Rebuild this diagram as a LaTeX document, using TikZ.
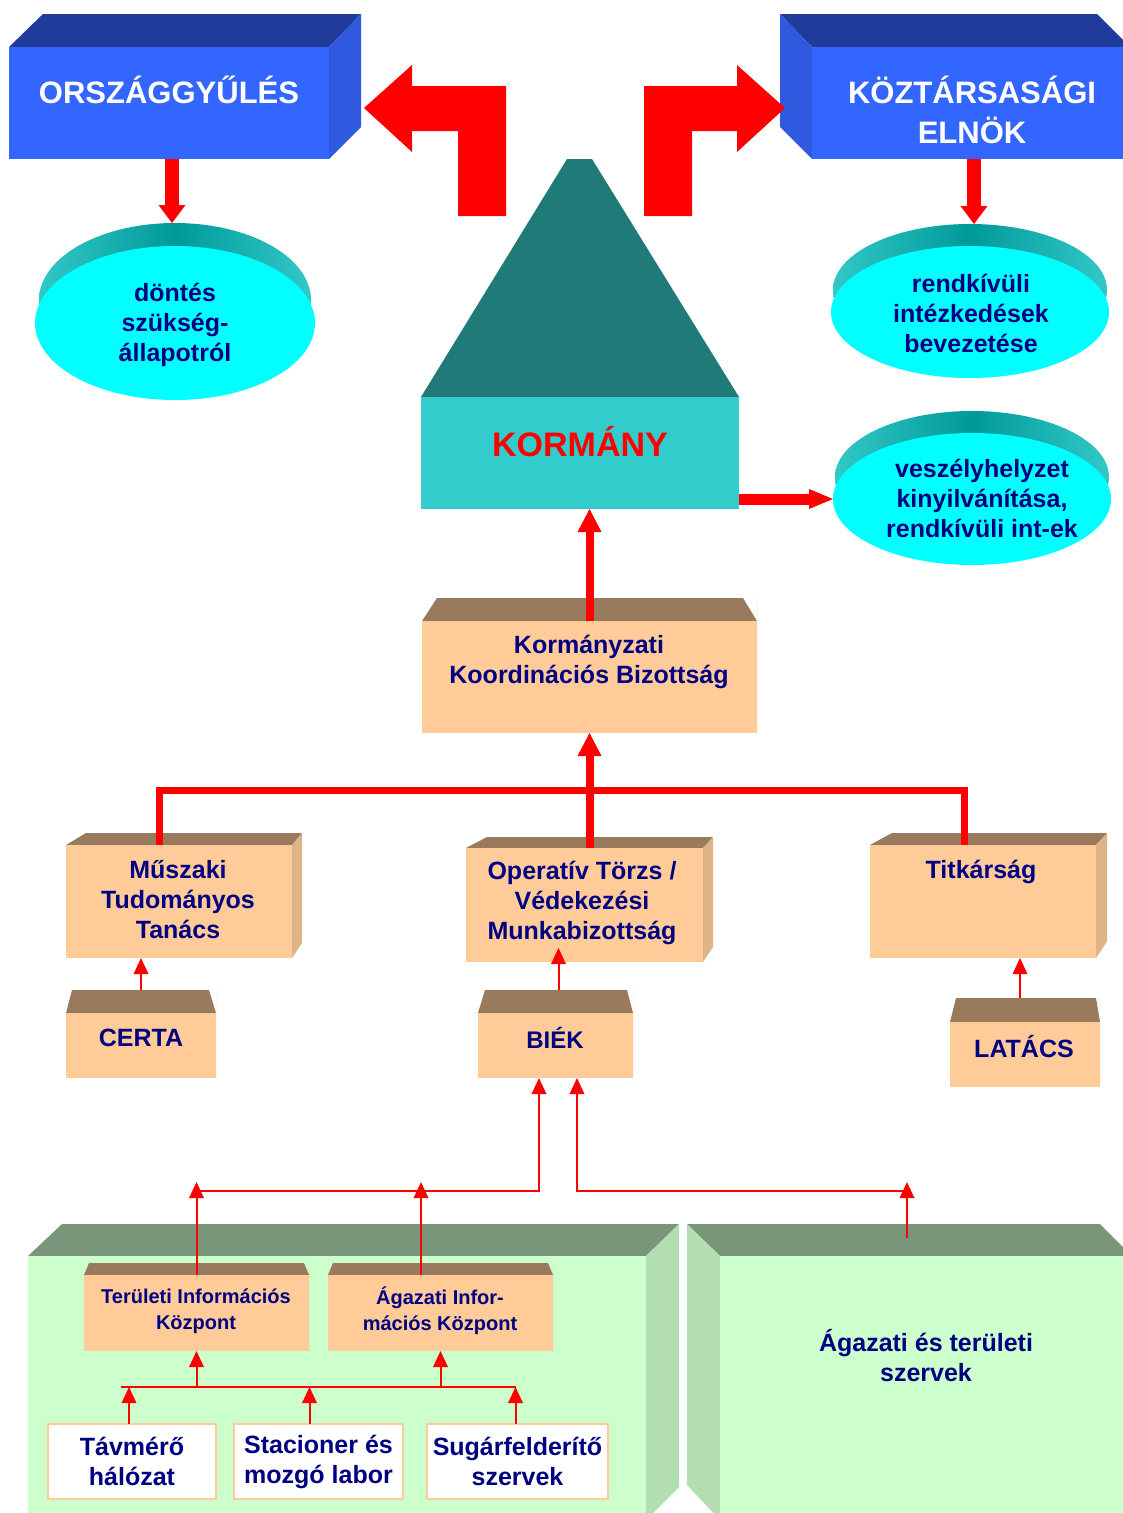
\documentclass[tikz,border=0pt]{standalone}
\usepackage{fontspec}
\setmainfont{Liberation Sans}
\usetikzlibrary{arrows.meta,shapes.geometric}

\definecolor{bluefront}{RGB}{51,102,255}
\definecolor{bluetop}{RGB}{32,60,154}
\definecolor{blueside}{RGB}{47,90,224}
\definecolor{pyramidc}{RGB}{31,122,120}
\definecolor{kormc}{RGB}{51,204,204}
\definecolor{diskc}{RGB}{0,255,255}
\definecolor{diskdark}{RGB}{0,153,153}
\definecolor{diskedge}{RGB}{51,200,200}
\definecolor{navytext}{RGB}{0,0,128}
\definecolor{orangefront}{RGB}{255,204,153}
\definecolor{orangetop}{RGB}{153,122,92}
\definecolor{orangeside}{RGB}{222,179,135}
\definecolor{greenfront}{RGB}{204,255,204}
\definecolor{greentop}{RGB}{122,150,122}
\definecolor{greenside}{RGB}{178,222,178}

\tikzset{
  bfront/.style={fill=bluefront, inner sep=0, outer sep=0},
  kfront/.style={fill=kormc, inner sep=0, outer sep=0},
  pfront/.style={fill=orangefront, inner sep=0, outer sep=0},
  gfront/.style={fill=greenfront, inner sep=0, outer sep=0},
  diskback/.style={ellipse, inner sep=0, outer sep=0, left color=diskedge, right color=diskedge, middle color=diskdark},
  diskfront/.style={ellipse, inner sep=0, outer sep=0, fill=diskc},
  wbox/.style={draw=orangefront, line width=2pt, fill=white, inner sep=0, outer sep=0,
    text=navytext, align=center, font=\bfseries\fontsize{25}{30}\selectfont},
  txt/.style={text=navytext, align=center, inner sep=0, font=\bfseries\fontsize{25}{30}\selectfont},
  smalltxt/.style={text=navytext, align=center, inner sep=0, font=\bfseries\fontsize{20}{26}\selectfont},
  headtxt/.style={text=white, align=center, inner sep=0, font=\bfseries\fontsize{31}{40}\selectfont},
  thinline/.style={red, line width=2pt},
  thinarrow/.style={red, line width=2pt, -{Triangle[length=16pt,width=15pt,line width=0pt]}},
  busline/.style={red, line width=7pt},
  bigarrow/.style={red, line width=8pt, -{Triangle[length=23pt,width=24pt,line width=0pt]}},
  blockarrow/.style={red, line width=14pt, -{Triangle[length=18pt,width=27pt,line width=0pt]}},
  sidearrow/.style={red, line width=11pt, -{Triangle[length=24pt,width=20pt,line width=0pt]}}
}

% name, x1, y1, x2, y2, top height, left inset, right inset, side width
\newcommand{\pbox}[9]{%
  \fill[orangetop] (#2,#3) -- ++(#7,-#6) -- ({#4-(#8)},{#3-(#6)}) -- (#4,#3) -- cycle;
  \fill[orangeside] (#4,#3) -- ({#4+#9},{#3-(#6)}) -- ({#4+#9},{#5-1.5*#9}) -- (#4,#5) -- cycle;
  \node[pfront, minimum width={#4-#2}, minimum height={#5-#3}] (#1) at ({(#2+#4)/2},{(#3+#5)/2}) {};
  \coordinate (#1-top) at ({(#2+#4)/2},{#3-(#6)});
}

\begin{document}
\begin{tikzpicture}[x=1pt,y=-1pt]
\useasboundingbox (0,0) rectangle (1123,1513);
\clip (0,0) rectangle (1123,1513);

\fill[bluetop] (9,47) -- (43,14) -- (361,14) -- (329,47) -- cycle;
\fill[blueside] (329,47) -- (361,14) -- (361,127) -- (329,159) -- cycle;
\node[bfront, minimum width=320, minimum height=112] (orsz) at (169,103) {};
\fill[bluetop] (780,14) -- (1097,14) -- (1130,47) -- (812,47) -- cycle;
\fill[blueside] (780,14) -- (812,47) -- (812,159) -- (780,127) -- cycle;
\node[bfront, minimum width=318, minimum height=112] (elnok) at (971,103) {};

\fill[pyramidc] (421,397) -- (567,159) -- (592,159) -- (739,397) -- cycle;
\node[kfront, minimum width=318, minimum height=112] (korm) at (580,453) {};

\fill[red] (364,108) -- (412,65) -- (412,86) -- (506,86) -- (506,216) -- (458,216)
  -- (458,131) -- (412,131) -- (412,152) -- cycle;
\fill[red] (785,108) -- (737,65) -- (737,86) -- (644,86) -- (644,216) -- (692,216)
  -- (692,131) -- (737,131) -- (737,152) -- cycle;

\node[diskback, minimum width=272, minimum height=154] (dontes-b) at (175,300) {};
\node[diskfront, minimum width=280, minimum height=154] (dontes) at (175,323) {};
\node[diskback, minimum width=274, minimum height=132] (rendk-b) at (970,290) {};
\node[diskfront, minimum width=278, minimum height=132] (rendk) at (970,312) {};
\node[diskback, minimum width=274, minimum height=132] (vesz-b) at (972,477) {};
\node[diskfront, minimum width=278, minimum height=132] (vesz) at (972,499) {};

\pbox{kkb}{422}{621}{757}{733}{23}{15}{14}{0}
\pbox{musz}{66}{845}{292}{958}{12}{20}{-10}{10}
\pbox{op}{466}{848}{703}{962}{11}{21}{-10}{10}
\pbox{titk}{870}{845}{1096}{958}{12}{22}{-11}{11}
\pbox{certa}{66}{1013}{216}{1078}{23}{6}{7}{0}
\pbox{biek}{478}{1013}{633}{1078}{23}{7}{6}{0}
\pbox{latacs}{950}{1022}{1100}{1087}{24}{6}{4}{0}

\fill[greentop] (28,1256) -- (62,1224) -- (679,1224) -- (646,1256) -- cycle;
\fill[greenside] (646,1256) -- (679,1224) -- (679,1487) -- (646,1520) -- cycle;
\node[gfront, minimum width=618, minimum height=264] (gl) at (337,1388) {};
\fill[greentop] (687,1224) -- (1100,1224) -- (1132,1256) -- (720,1256) -- cycle;
\fill[greenside] (687,1224) -- (720,1256) -- (720,1520) -- (687,1485) -- cycle;
\node[gfront, minimum width=410, minimum height=264] (gr) at (925,1388) {};

\pbox{tik}{84}{1275}{309}{1351}{12}{5}{5}{0}
\pbox{aik}{328}{1275}{553}{1351}{12}{5}{5}{0}

\node[wbox, minimum width=168, minimum height=75] (tav) at (132,1461.5) {Távmérő\\hálózat};
\node[wbox, minimum width=169, minimum height=75] (stac) at (318.5,1461.5) {Stacioner és\\mozgó labor};
\node[wbox, minimum width=181, minimum height=75] (sug) at (517.5,1461.5) {Sugárfelderítő\\szervek};

\draw[blockarrow] ([xshift=-3pt]dontes-b.north |- orsz.south) -- ([xshift=-3pt]dontes-b.north);
\draw[blockarrow] ([xshift=4pt]rendk-b.north |- elnok.south) -- ([xshift=4pt]rendk-b.north);
\draw[sidearrow] (korm.east |- vesz.west) -- (vesz.west);
\draw[bigarrow] (kkb.north) -- (kkb.north |- korm.south);

\coordinate (busl) at (159,790);
\coordinate (busr) at (964,790);
\draw[busline] (busl |- musz.north) -- (busl) -- (busr) -- (busr |- titk.north);
\draw[bigarrow] (kkb.south |- op.north) -- (kkb.south);

\draw[thinarrow] (certa-top) -- (certa-top |- musz.south);
\draw[thinarrow, shorten >=-14pt] ([xshift=3pt]biek-top) -- ([xshift=3pt]biek-top |- op.south);
\draw[thinarrow] ([xshift=-5pt]latacs-top) -- ([xshift=-5pt]latacs-top |- titk.south);

\coordinate (jl) at (539,1191);
\coordinate (jr) at (577,1191);
\coordinate (tipaik) at (421,1182);
\coordinate (tipag) at (907,1182);
\coordinate (agfoot) at (907,1238);
\draw[thinarrow] (tik.north |- jl) -- (jl) -- (jl |- biek.south);
\draw[thinarrow] (tipag |- jr) -- (jr) -- (jr |- biek.south);
\draw[thinarrow] (tik.north) -- (tik.north |- tipaik);
\draw[thinarrow] (tipaik |- aik.north) -- (tipaik);
\draw[thinarrow] (agfoot) -- (tipag);

\coordinate (hl) at (121,1387);
\coordinate (hr) at (516,1387);
\draw[thinline] (hl) -- (hr);
\draw[thinarrow] (tik.south |- hl) -- (tik.south);
\draw[thinarrow] (aik.south |- hl) -- (aik.south);
\draw[thinarrow] ([xshift=-3pt]tav.north) -- ([xshift=-3pt]tav.north |- hl);
\draw[thinarrow] ([xshift=-9pt]stac.north) -- ([xshift=-9pt]stac.north |- hl);
\draw[thinarrow] ([xshift=-2pt]sug.north) -- ([xshift=-2pt]sug.north |- hl);

\node[headtxt] (orsz-t) at (169,90) {ORSZÁGGYŰLÉS};
\node[headtxt] (elnok-t) at (972,110) {KÖZTÁRSASÁGI\\ELNÖK};
\node[text=red, inner sep=0, font=\bfseries\fontsize{34}{40}\selectfont] (korm-t) at (580,442) {KORMÁNY};
\node[txt] (dontes-t) at (175,325) {döntés\\szükség-\\állapotról};
\node[txt] (rendk-t) at (971,313) {rendkívüli\\intézkedések\\bevezetése};
\node[txt] (vesz-t) at (982,498) {veszélyhelyzet\\kinyilvánítása,\\rendkívüli int-ek};
\node[txt] (kkb-t) at (589,662) {Kormányzati\\Koordinációs Bizottság};
\node[txt] (musz-t) at (178,900) {Műszaki\\Tudományos\\Tanács};
\node[txt] (op-t) at (582,903) {Operatív Törzs /\\Védekezési\\Munkabizottság};
\node[txt] (titk-t) at (981,872) {Titkárság};
\node[txt] (certa-t) at (141,1038) {CERTA};
\node[txt, font=\bfseries\fontsize{24}{30}\selectfont] (biek-t) at (555,1038) {BIÉK};
\node[txt] (latacs-t) at (1024,1047) {LATÁCS};
\node[smalltxt] (tik-t) at (196,1311) {Területi Információs\\Központ};
\node[smalltxt] (aik-t) at (440,1311) {Ágazati Infor-\\mációs Központ};
\node[txt] (gr-t) at (926,1356) {Ágazati és területi\\szervek};
\end{tikzpicture}
\end{document}
